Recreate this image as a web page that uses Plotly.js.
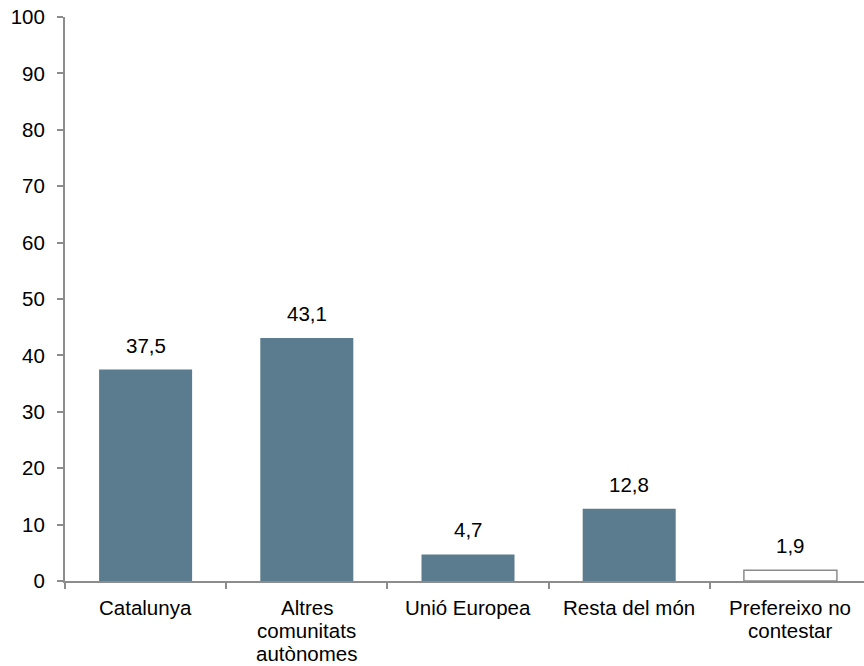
<!DOCTYPE html>
<html><head><meta charset="utf-8">
<script src="https://cdn.plot.ly/plotly-3.0.1.min.js"></script>
<style>html,body{margin:0;background:#fff;overflow:hidden}#c{width:880px;height:666px}</style>
</head><body><div id="c"></div>
<script>
const categories = ["Catalunya", "Altres comunitats autònomes", "Unió Europea", "Resta del món", "Prefereixo no contestar"];
const tickLabelLines = [["Catalunya"], ["Altres", "comunitats", "autònomes"], ["Unió Europea"], ["Resta del món"], ["Prefereixo no", "contestar"]];
const values = [37.5, 43.1, 4.7, 12.8, 1.9];
const fillColors = ["#5b7c8e", "#5b7c8e", "#5b7c8e", "#5b7c8e", "#ffffff"];
const lineColors = ["#5b7c8e", "#5b7c8e", "#5b7c8e", "#5b7c8e", "#8c8c8c"];
const lineWidths = [0, 0, 0, 0, 1.5];
const yTicks = [0,10,20,30,40,50,60,70,80,90,100];

const FONT = "Liberation Sans, Arial, sans-serif";
const FS = 20.5;
const trace = {
  type: "bar", x: categories, y: values,
  marker: {color: fillColors, line: {color: lineColors, width: lineWidths}},
  hoverinfo: "none"
};
const annotations = categories.map((c, i) => ({
  x: c, y: values[i], xref: "x", yref: "y",
  text: values[i].toFixed(1).replace(".", ","),
  showarrow: false, yanchor: "bottom", yshift: 11,
  font: {family: FONT, size: FS, color: "#000"}
}));
tickLabelLines.forEach((lines, i) => {
  lines.forEach((ln, j) => {
    annotations.push({
      x: categories[i], y: 0, xref: "x", yref: "paper",
      text: ln, showarrow: false, yanchor: "top", yshift: -(13 + 23 * j),
      font: {family: FONT, size: FS, color: "#000"}
    });
  });
});
const layout = {
  width: 880, height: 666,
  margin: {l: 65, r: 9, t: 17, b: 85},
  paper_bgcolor: "#fff", plot_bgcolor: "#fff",
  showlegend: false, bargap: 0.423,
  font: {family: FONT, size: FS, color: "#000"},
  xaxis: {type: "category", showgrid: false, showline: true, linecolor: "#8c8c8c", linewidth: 2,
          ticks: "outside", tickson: "boundaries", ticklen: 6, tickcolor: "#8c8c8c", tickwidth: 2,
          showticklabels: false, fixedrange: true},
  yaxis: {range: [0, 100], tickvals: yTicks, showgrid: false, zeroline: false, showline: true,
          linecolor: "#8c8c8c", linewidth: 2, ticks: "outside", ticklen: 6, tickcolor: "#8c8c8c", tickwidth: 2,
          ticklabelstandoff: 8, tickfont: {family: FONT, size: FS, color: "#000"}, fixedrange: true},
  annotations: annotations
};
Plotly.newPlot("c", [trace], layout, {staticPlot: true});
</script></body></html>
